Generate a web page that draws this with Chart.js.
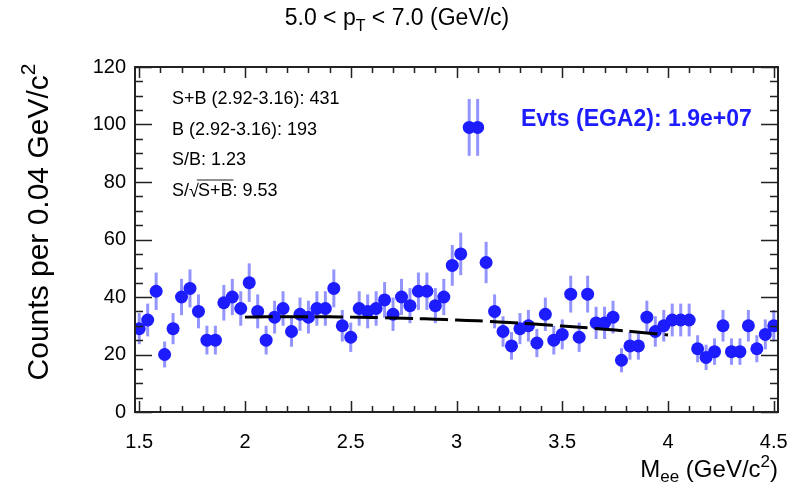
<!DOCTYPE html>
<html lang="en">
<head>
<meta charset="UTF-8">
<title>Mee spectrum 5.0 &lt; pT &lt; 7.0</title>
<style>
  body { margin: 0; background: #fff; }
  #wrap { width: 794px; height: 488px; }
</style>
<script src="https://cdn.jsdelivr.net/npm/chart.js"></script>
</head>
<body>
<div id="wrap"><canvas id="c" width="794" height="488"></canvas></div>
<script>
// bin centres (GeV/c^2), 0.04 wide bins
const binCenters = [1.50,1.54,1.58,1.62,1.66,1.70,1.74,1.78,1.82,1.86,1.90,1.94,1.98,2.02,2.06,2.10,2.14,2.18,2.22,2.26,
  2.30,2.34,2.38,2.42,2.46,2.50,2.54,2.58,2.62,2.66,2.70,2.74,2.78,2.82,2.86,2.90,2.94,2.98,3.02,3.06,
  3.10,3.14,3.18,3.22,3.26,3.30,3.34,3.38,3.42,3.46,3.50,3.54,3.58,3.62,3.66,3.70,3.74,3.78,3.82,3.86,
  3.90,3.94,3.98,4.02,4.06,4.10,4.14,4.18,4.22,4.26,4.30,4.34,4.38,4.42,4.46,4.50];
const counts = [29,32,42,20,29,40,43,35,25,25,38,40,36,45,35,25,33,36,28,34,
  33,36,36,43,30,26,36,35,36,39,34,40,37,42,42,37,40,51,55,99,
  99,52,35,28,23,29,30,24,34,25,27,41,26,41,31,31,33,18,23,23,
  33,28,30,32,32,32,22,19,21,30,21,21,30,22,27,30];
const errors = [5.4,5.7,6.5,4.5,5.4,6.3,6.6,5.9,5.0,5.0,6.2,6.3,6.0,6.7,5.9,5.0,5.7,6.0,5.3,5.8,
  5.7,6.0,6.0,6.6,5.5,5.1,6.0,5.9,6.0,6.2,5.8,6.3,6.1,6.5,6.5,6.1,6.3,7.1,7.4,9.9,
  9.9,7.2,5.9,5.3,4.8,5.4,5.5,4.9,5.8,5.0,5.2,6.4,5.1,6.4,5.6,5.6,5.7,4.2,4.8,4.8,
  5.7,5.3,5.5,5.7,5.7,5.7,4.7,4.4,4.6,5.5,4.6,4.6,5.5,4.7,5.2,5.5];

// background fit (dashed)
const fitX = [2.0,2.1,2.2,2.3,2.4,2.5,2.6,2.7,2.8,2.9,3.0,3.1,3.2,3.3,3.4,3.5,3.6,3.7,3.8,3.9,4.0];
const fitY = [33.0,33.1,33.1,33.1,33.1,33.0,32.9,32.7,32.5,32.3,32.0,31.7,31.3,30.9,30.4,29.9,29.4,28.8,28.2,27.5,26.8];

const xTickValues = [1.5, 2, 2.5, 3, 3.5, 4, 4.5];
const xTickLabels = ['1.5', '2', '2.5', '3', '3.5', '4', '4.5'];
const yTickValues = [0, 20, 40, 60, 80, 100, 120];
const yTickLabels = ['0', '20', '40', '60', '80', '100', '120'];

const statLines = ['S+B (2.92-3.16): 431', 'B (2.92-3.16): 193', 'S/B: 1.23'];
const signif = '9.53';
const evtsText = 'Evts (EGA2): 1.9e+07';

const FONT = '"Liberation Sans", Arial, Helvetica, sans-serif';
const BLUE = '#1c1cff';

function richText(ctx, parts, x, y, align) {
    let w = 0;
    parts.forEach(p => { ctx.font = p.f; w += ctx.measureText(p.t).width; });
    let cx = align === 'right' ? x - w : (align === 'center' ? x - w / 2 : x);
    ctx.textAlign = 'left';
    parts.forEach(p => {
        ctx.font = p.f;
        ctx.fillText(p.t, cx, y + (p.dy || 0));
        cx += ctx.measureText(p.t).width;
    });
    return cx;
}

// error bars, drawn under the markers
const errorBars = {
    id: 'errorBars',
    beforeDatasetsDraw(chart) {
        const ctx = chart.ctx, xs = chart.scales.x, ys = chart.scales.y;
        ctx.save();
        ctx.strokeStyle = 'rgba(60,60,255,0.55)';
        ctx.lineWidth = 3;
        for (let i = 0; i < counts.length; i++) {
            const px = xs.getPixelForValue(binCenters[i]);
            ctx.beginPath();
            ctx.moveTo(px, ys.getPixelForValue(counts[i] - errors[i]));
            ctx.lineTo(px, ys.getPixelForValue(counts[i] + errors[i]));
            ctx.stroke();
        }
        ctx.restore();
    }
};

// ROOT-like frame, inward ticks on all four sides, texts
const frame = {
    id: 'frame',
    afterDraw(chart) {
        const ctx = chart.ctx, a = chart.chartArea;
        const xs = chart.scales.x, ys = chart.scales.y;
        ctx.save();
        ctx.strokeStyle = '#222';
        ctx.lineWidth = 2;
        ctx.strokeRect(a.left, a.top, a.right - a.left, a.bottom - a.top);

        ctx.lineWidth = 1.5;
        ctx.beginPath();
        for (let v = 1.5; v <= 4.501; v += 0.1) {
            const px = Math.round(xs.getPixelForValue(v)) + 0.5;
            const major = Math.abs(v * 2 - Math.round(v * 2)) < 1e-6;
            const len = major ? 11 : 6;
            ctx.moveTo(px, a.bottom); ctx.lineTo(px, a.bottom - len);
            ctx.moveTo(px, a.top); ctx.lineTo(px, a.top + len);
        }
        for (let v = 0; v <= 120; v += 5) {
            const py = Math.round(ys.getPixelForValue(v)) + 0.5;
            const len = v % 20 === 0 ? 17 : 8;
            ctx.moveTo(a.left, py); ctx.lineTo(a.left + len, py);
            ctx.moveTo(a.right, py); ctx.lineTo(a.right - len, py);
        }
        ctx.stroke();

        ctx.fillStyle = '#000';
        ctx.textBaseline = 'alphabetic';
        // title
        richText(ctx, [
            { t: '5.0 < p', f: '23px ' + FONT },
            { t: 'T', f: '16px ' + FONT, dy: 6 },
            { t: ' < 7.0 (GeV/c)', f: '23px ' + FONT }
        ], 397, 25, 'center');

        // x title
        richText(ctx, [
            { t: 'M', f: '24px ' + FONT },
            { t: 'ee', f: '17px ' + FONT, dy: 5 },
            { t: ' (GeV/c', f: '24px ' + FONT },
            { t: '2', f: '17px ' + FONT, dy: -10 },
            { t: ')', f: '24px ' + FONT }
        ], 778, 477, 'right');

        // y title
        ctx.save();
        ctx.translate(48, 222);
        ctx.rotate(-Math.PI / 2);
        richText(ctx, [
            { t: 'Counts per 0.04 GeV/c', f: '30px ' + FONT },
            { t: '2', f: '21px ' + FONT, dy: -13 }
        ], 0, 0, 'center');
        ctx.restore();

        // stats box
        const sx = 172;
        ctx.font = '18px ' + FONT;
        statLines.forEach((s, i) => ctx.fillText(s, sx, 104 + i * 30.5));
        const by = 104 + 3 * 30.5;
        let cx = richText(ctx, [{ t: 'S/', f: '18px ' + FONT }], sx, by, 'left');
        ctx.font = '18px ' + FONT;
        ctx.fillText('\u221A', cx, by + 1);
        cx += ctx.measureText('\u221A').width - 1;
        const w = ctx.measureText('S+B').width;
        ctx.fillText('S+B', cx, by);
        ctx.lineWidth = 1.2;
        ctx.beginPath();
        ctx.moveTo(cx - 1, by - 15.5); ctx.lineTo(cx + w + 1, by - 15.5);
        ctx.stroke();
        ctx.fillText(': ' + signif, cx + w, by);

        // events
        ctx.fillStyle = BLUE;
        ctx.font = 'bold 23px ' + FONT;
        ctx.fillText(evtsText, 521, 126);
        ctx.restore();
    }
};

new Chart(document.getElementById('c').getContext('2d'), {
    type: 'scatter',
    data: {
        datasets: [
            {
                type: 'line',
                label: 'fit',
                data: fitX.map((x, i) => ({ x: x, y: fitY[i] })),
                borderColor: '#000',
                borderWidth: 3,
                borderDash: [28, 7],
                pointRadius: 0,
                tension: 0.3,
                fill: false,
                order: 0
            },
            {
                label: 'data',
                data: binCenters.map((x, i) => ({ x: x, y: counts[i] })),
                backgroundColor: BLUE,
                borderColor: BLUE,
                borderWidth: 0,
                pointRadius: 6.5,
                order: 1
            }
        ]
    },
    options: {
        responsive: false,
        animation: false,
        layout: { padding: { left: 0, right: 16, top: 67, bottom: 0 } },
        plugins: { legend: { display: false }, tooltip: { enabled: false } },
        scales: {
            x: {
                type: 'linear', min: 1.48, max: 4.52,
                afterBuildTicks: s => { s.ticks = xTickValues.map(v => ({ value: v })); },
                afterFit: s => { s.height = 76; s.paddingLeft = 0; s.paddingRight = 0; },
                ticks: {
                    callback: (v, i) => xTickLabels[i],
                    font: { family: FONT, size: 20 }, color: '#000',
                    padding: 18, maxRotation: 0, autoSkip: false
                },
                grid: { display: false, drawTicks: false },
                border: { display: false }
            },
            y: {
                min: 0, max: 120,
                afterBuildTicks: s => { s.ticks = yTickValues.map(v => ({ value: v })); },
                afterFit: s => { s.width = 135; s.paddingTop = 0; s.paddingBottom = 0; },
                ticks: {
                    callback: (v, i) => yTickLabels[i],
                    font: { family: FONT, size: 20 }, color: '#000',
                    padding: 9, autoSkip: false
                },
                grid: { display: false, drawTicks: false },
                border: { display: false }
            }
        }
    },
    plugins: [errorBars, frame]
});
</script>
</body>
</html>
